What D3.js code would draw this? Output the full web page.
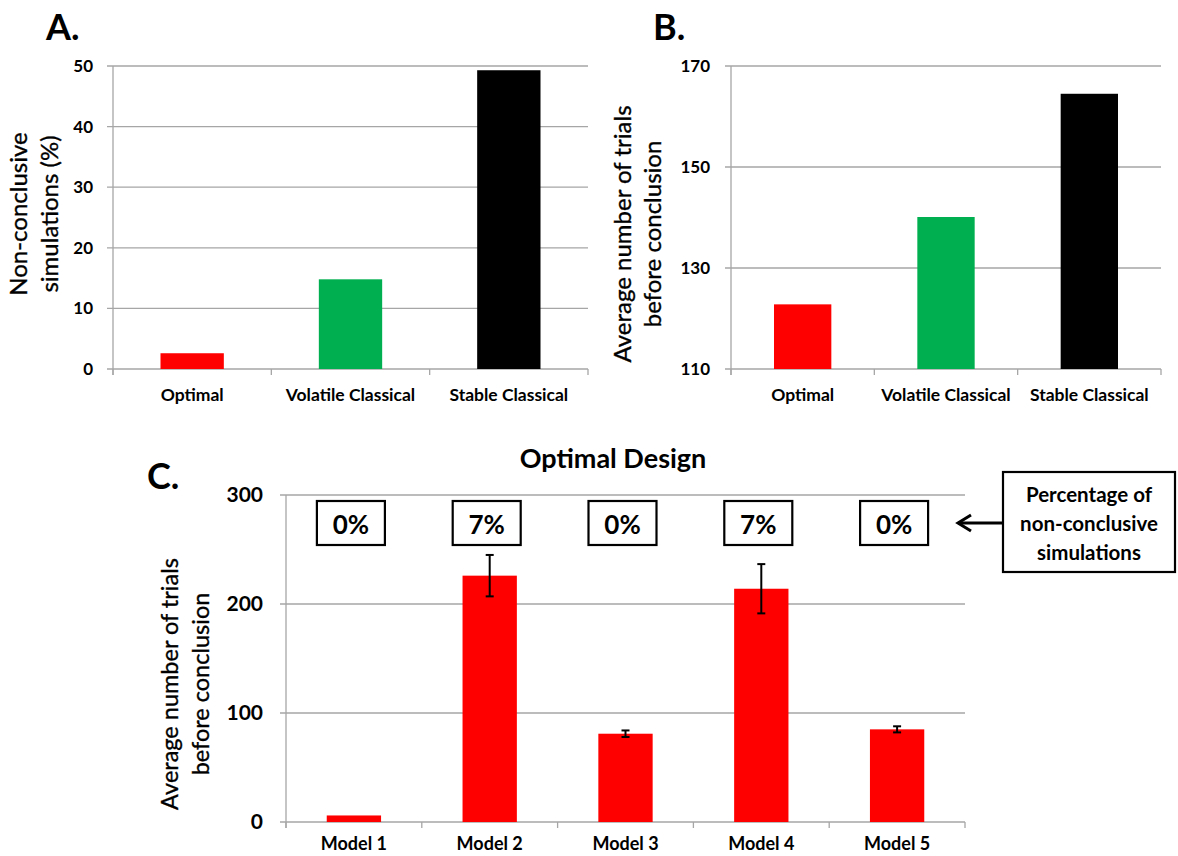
<!DOCTYPE html>
<html>
<head>
<meta charset="utf-8">
<script src="https://cdn.jsdelivr.net/npm/d3@7"></script>
<style>
  html, body { margin: 0; padding: 0; background: #fff; }
  svg { display: block; }
  text { font-family: Lato, "Open Sans", sans-serif; fill: #000; }
</style>
</head>
<body>
<svg id="chart" width="1178" height="856"></svg>
<script>
// ---------- data ----------
const categoriesAB = ["Optimal", "Volatile Classical", "Stable Classical"];
const colorsAB = ["#ff0000", "#00b050", "#000000"];
const nonConclusivePct = [2.6, 14.8, 49.3];
const avgTrialsAB = [122.8, 140.1, 164.5];
const yTicksA = [0, 10, 20, 30, 40, 50];
const yTicksB = [110, 130, 150, 170];

const modelsC = ["Model 1", "Model 2", "Model 3", "Model 4", "Model 5"];
const avgTrialsC = [6, 226, 81, 214, 85];
const errorC = [0, 19, 3, 22.6, 2.8];
const pctLabelsC = ["0%", "7%", "0%", "7%", "0%"];
const yTicksC = [0, 100, 200, 300];

// ---------- drawing ----------
const svg = d3.select("#chart");
svg.append("rect").attr("width", 1178).attr("height", 856).attr("fill", "#fff");

const gridColor = "#a6a6a6";

function panel(opt) {
  const g = svg.append("g");
  const x = d3.scaleBand().domain(opt.categories).range([opt.x0, opt.x1])
    .paddingInner(0.6).paddingOuter(0.3);
  const y = d3.scaleLinear().domain(opt.domain).range([opt.yBot, opt.yTop]);

  // gridlines
  g.selectAll("line.grid").data(opt.ticks.slice(1)).join("line")
    .attr("x1", opt.x0 - 6).attr("x2", opt.x1)
    .attr("y1", d => y(d)).attr("y2", d => y(d))
    .attr("stroke", gridColor).attr("stroke-width", 1.3);

  // y axis labels
  const ya = g.append("g").attr("transform", `translate(${opt.x0},0)`)
    .call(d3.axisLeft(y).tickValues(opt.ticks).tickSize(0).tickPadding(opt.tickPad));
  ya.select(".domain").remove();
  ya.selectAll("text").attr("font-family", "Lato, sans-serif")
    .attr("font-weight", "bold").attr("font-size", opt.tickFont).attr("fill", "#000");

  // axes lines
  g.append("line").attr("x1", opt.x0).attr("x2", opt.x0)
    .attr("y1", opt.yTop).attr("y2", opt.yBot + 6)
    .attr("stroke", gridColor).attr("stroke-width", 1.3);
  g.append("line").attr("x1", opt.x0 - 6).attr("x2", opt.x1)
    .attr("y1", opt.yBot).attr("y2", opt.yBot)
    .attr("stroke", gridColor).attr("stroke-width", 1.3);
  const step = x.step();
  const bounds = d3.range(opt.categories.length + 1).map(i => opt.x0 + i * step);
  g.selectAll("line.xt").data(bounds).join("line")
    .attr("x1", d => d).attr("x2", d => d)
    .attr("y1", opt.yBot).attr("y2", opt.yBot + 6)
    .attr("stroke", gridColor).attr("stroke-width", 1.3);

  // bars
  g.selectAll("rect.bar").data(opt.values).join("rect")
    .attr("x", (d, i) => x(opt.categories[i]))
    .attr("width", x.bandwidth())
    .attr("y", d => y(d))
    .attr("height", d => y(opt.domain[0]) - y(d))
    .attr("fill", (d, i) => opt.colors[i]);

  // category labels
  g.selectAll("text.cat").data(opt.categories).join("text")
    .attr("x", d => x(d) + x.bandwidth() / 2)
    .attr("y", opt.yBot + opt.catOffset)
    .attr("text-anchor", "middle").attr("dominant-baseline", "central")
    .attr("font-weight", "bold").attr("font-size", opt.catFont)
    .text(d => d);

  // y title
  const t = g.append("text")
    .attr("transform", `translate(${opt.titleX},${opt.titleY}) rotate(-90)`)
    .attr("text-anchor", "middle").attr("font-size", opt.titleFont)
    .attr("stroke", "#000").attr("stroke-width", 0.35);
  opt.titleLines.forEach((l, i) => {
    t.append("tspan").attr("x", 0).attr("dy", i === 0 ? 0 : opt.titleLH).text(l);
  });

  // panel letter
  g.append("text").attr("x", opt.letterX).attr("y", opt.letterY)
    .attr("font-weight", "bold").attr("font-size", 36).text(opt.letter);

  return { x, y, g };
}

panel({
  categories: categoriesAB, values: nonConclusivePct, colors: colorsAB,
  x0: 113, x1: 588, yTop: 66, yBot: 369, domain: [0, 50], ticks: yTicksA,
  tickPad: 20, tickFont: 17, catFont: 17.5, catOffset: 25,
  titleLines: ["Non-conclusive", "simulations (%)"], titleX: 27, titleY: 214,
  titleFont: 24, titleLH: 31, letter: "A.", letterX: 46, letterY: 40
});

panel({
  categories: categoriesAB, values: avgTrialsAB, colors: colorsAB,
  x0: 731, x1: 1161, yTop: 66, yBot: 369, domain: [110, 170], ticks: yTicksB,
  tickPad: 21, tickFont: 17, catFont: 17.5, catOffset: 25,
  titleLines: ["Average number of trials", "before conclusion"], titleX: 631, titleY: 234,
  titleFont: 24, titleLH: 30, letter: "B.", letterX: 653, letterY: 40
});

const pc = panel({
  categories: modelsC, values: avgTrialsC, colors: modelsC.map(() => "#ff0000"),
  x0: 286, x1: 965, yTop: 495, yBot: 822, domain: [0, 300], ticks: yTicksC,
  tickPad: 23, tickFont: 21, catFont: 18, catOffset: 21,
  titleLines: ["Average number of trials", "before conclusion"], titleX: 178, titleY: 684,
  titleFont: 23.5, titleLH: 31, letter: "C.", letterX: 147, letterY: 489
});

// error bars
const xc = pc.x, yc = pc.y;
const eb = svg.append("g");
modelsC.forEach((m, i) => {
  if (!errorC[i]) return;
  const cx = xc(m) + xc.bandwidth() / 2;
  const top = yc(avgTrialsC[i] + errorC[i]);
  const bot = yc(avgTrialsC[i] - errorC[i]);
  eb.append("line").attr("x1", cx).attr("x2", cx).attr("y1", top).attr("y2", bot)
    .attr("stroke", "#000").attr("stroke-width", 2);
  [top, bot].forEach(yy => eb.append("line").attr("x1", cx - 4).attr("x2", cx + 4)
    .attr("y1", yy).attr("y2", yy).attr("stroke", "#000").attr("stroke-width", 2));
});

// percentage boxes
const boxes = svg.append("g");
modelsC.forEach((m, i) => {
  const cx = xc(m) + xc.bandwidth() / 2 - 3;
  boxes.append("rect").attr("x", cx - 34).attr("y", 501).attr("width", 68).attr("height", 44)
    .attr("fill", "#fff").attr("stroke", "#000").attr("stroke-width", 2.2);
  boxes.append("text").attr("x", cx).attr("y", 524)
    .attr("text-anchor", "middle").attr("dominant-baseline", "central")
    .attr("font-weight", "bold").attr("font-size", 26).text(pctLabelsC[i]);
});

// chart C title
svg.append("text").attr("x", 613).attr("y", 468).attr("text-anchor", "middle")
  .attr("font-weight", "bold").attr("font-size", 27).text("Optimal Design");

// annotation box + arrow
const ann = svg.append("g");
ann.append("rect").attr("x", 1003).attr("y", 472).attr("width", 172).attr("height", 100)
  .attr("fill", "#fff").attr("stroke", "#000").attr("stroke-width", 2.2);
["Percentage of", "non-conclusive", "simulations"].forEach((l, i) => {
  ann.append("text").attr("x", 1089).attr("y", 494 + i * 29)
    .attr("text-anchor", "middle").attr("dominant-baseline", "central")
    .attr("font-weight", "bold").attr("font-size", 20.5).text(l);
});
ann.append("line").attr("x1", 1003).attr("x2", 958).attr("y1", 523).attr("y2", 523)
  .attr("stroke", "#000").attr("stroke-width", 3);
ann.append("path").attr("d", "M971,515 L958,523 L971,531")
  .attr("fill", "none").attr("stroke", "#000").attr("stroke-width", 3);
</script>
</body>
</html>
